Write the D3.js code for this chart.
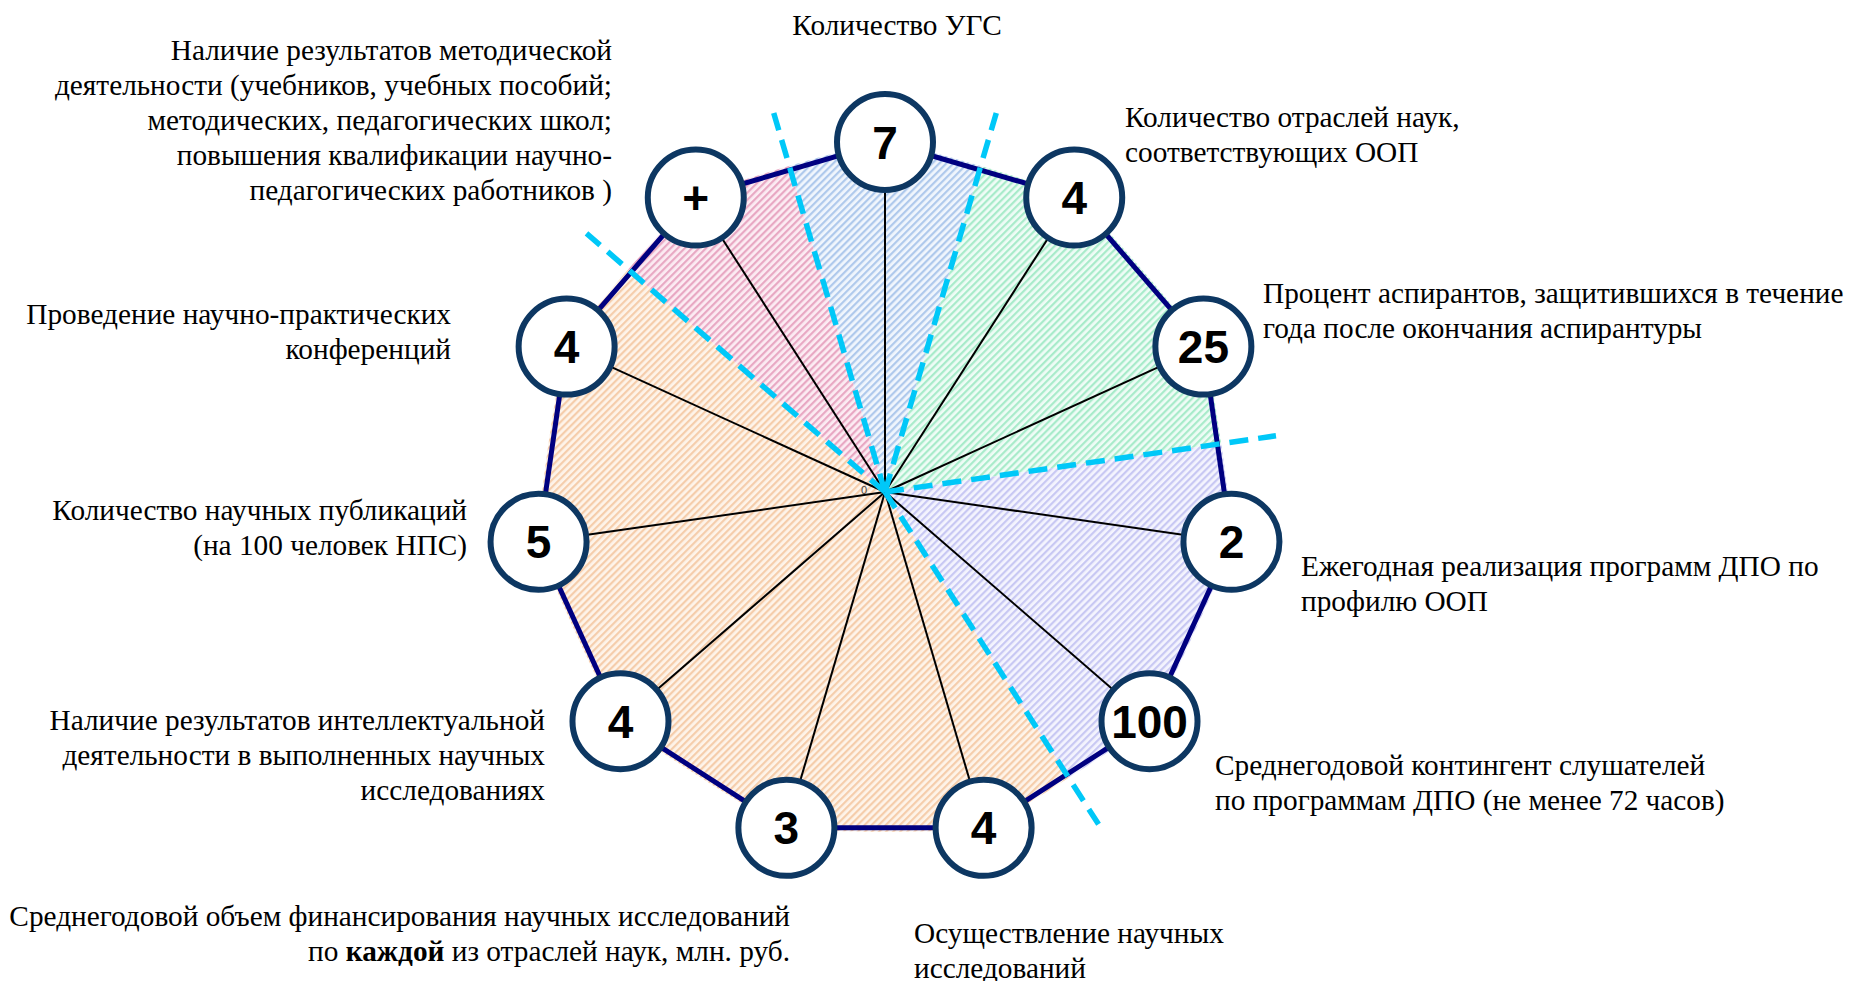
<!DOCTYPE html>
<html>
<head>
<meta charset="utf-8">
<script src="https://cdn.jsdelivr.net/npm/d3@7"></script>
<style>
body { margin: 0; background: #fff; }
</style>
</head>
<body>
<div id="chart"></div>
<script>
// criteria around the wheel, clockwise from the top
var axisLabels = [
    ["Количество УГС"],
    ["Количество отраслей наук,", "соответствующих ООП"],
    ["Процент аспирантов, защитившихся в течение", "года после окончания аспирантуры"],
    ["Ежегодная реализация программ ДПО по", "профилю ООП"],
    ["Среднегодовой  контингент слушателей", "по программам ДПО (не менее 72 часов)"],
    ["Осуществление научных", "исследований"],
    ["Среднегодовой объем финансирования научных исследований", "по **каждой** из отраслей наук, млн. руб."],
    ["Наличие результатов интеллектуальной", "деятельности в выполненных научных", "исследованиях"],
    ["Количество научных публикаций", "(на 100 человек НПС)"],
    ["Проведение научно-практических", "конференций"],
    ["Наличие результатов методической", "деятельности (учебников, учебных пособий;", "методических, педагогических школ;",
        "повышения квалификации научно-", "педагогических работников )"]
];
var shownValues = ["7", "4", "25", "2", "100", "4", "3", "4", "5", "4", "+"];
var scores = [1, 1, 1, 1, 1, 1, 1, 1, 1, 1, 1];
var sectorOfAxis = [0, 1, 1, 2, 2, 3, 3, 3, 3, 3, 4];
var sectorNames = ["blue", "green", "lavender", "orange", "pink"];
var tickLabels = ["0", "1"];
var pageNumber = "120";

// layout / style
var width = 1854, height = 981;
var cx = 885, cy = 492, R = 350;
var serif = "'Liberation Serif', 'Times New Roman', serif";
var sans = "'Liberation Sans', Arial, sans-serif";
var labelLayout = [
    { x: 897, y: 35, anchor: "middle" },
    { x: 1125, y: 127, anchor: "start" },
    { x: 1263, y: 303, anchor: "start" },
    { x: 1301, y: 576, anchor: "start" },
    { x: 1215, y: 775, anchor: "start" },
    { x: 914, y: 943, anchor: "start" },
    { x: 790, y: 926, anchor: "end" },
    { x: 545, y: 730, anchor: "end" },
    { x: 467, y: 520, anchor: "end" },
    { x: 451, y: 324, anchor: "end" },
    { x: 612, y: 60, anchor: "end" }
];
var sectorStyle = {
    blue: { bg: "#f1f6fd", stripe: "#afc9ec" },
    green: { bg: "#effcf6", stripe: "#a8ebca" },
    lavender: { bg: "#f4f4fe", stripe: "#c8c8f3" },
    orange: { bg: "#fef4ea", stripe: "#f5cdab" },
    pink: { bg: "#fcecf3", stripe: "#e8a8c3" }
};

var n = axisLabels.length;
var angle = d3.scaleLinear().domain([0, n]).range([0, 2 * Math.PI]);
var rScale = d3.scaleLinear().domain([0, 1]).range([0, R]);

var svg = d3.select("#chart").append("svg")
    .attr("width", width).attr("height", height);
var defs = svg.append("defs");

function px(i, v) { return rScale(v) * Math.sin(angle(i)); }
function py(i, v) { return -rScale(v) * Math.cos(angle(i)); }

// hatch patterns
sectorNames.forEach(function (name) {
    var p = defs.append("pattern")
        .attr("id", "hatch-" + name)
        .attr("patternUnits", "userSpaceOnUse")
        .attr("width", 5).attr("height", 5)
        .attr("patternTransform", "rotate(45)");
    p.append("rect").attr("width", 5).attr("height", 5).attr("fill", sectorStyle[name].bg);
    p.append("rect").attr("width", 2.2).attr("height", 5).attr("fill", sectorStyle[name].stripe);
});

// sector wedges: start / end in axis units
var sectors = sectorNames.map(function (name, s) {
    var idx = sectorOfAxis.map(function (d, i) { return d === s ? i : -1; })
        .filter(function (i) { return i >= 0; });
    return { name: name, start: idx[0] - 0.5, end: idx[idx.length - 1] + 0.5 };
});

var wedge = d3.arc().innerRadius(0).outerRadius(R + 80);
sectors.forEach(function (s) {
    defs.append("clipPath").attr("id", "clip-" + s.name)
        .append("path")
        .attr("d", wedge({ startAngle: angle(s.start), endAngle: angle(s.end) }));
});

var pts = scores.map(function (v, i) { return [angle(i), rScale(v)]; });
var smoothArea = d3.lineRadial().curve(d3.curveCardinalClosed.tension(0.7));
var polyLine = d3.lineRadial().curve(d3.curveLinearClosed);

var g = svg.append("g").attr("transform", "translate(" + cx + "," + cy + ")");

// hatched fill, one wedge per group
sectors.forEach(function (s) {
    g.append("path")
        .attr("clip-path", "url(#clip-" + s.name + ")")
        .attr("d", smoothArea(pts))
        .attr("fill", "url(#hatch-" + s.name + ")");
});

// spokes
g.selectAll("line.spoke")
    .data(scores).enter().append("line")
    .attr("class", "spoke")
    .attr("x1", 0).attr("y1", 0)
    .attr("x2", function (d, i) { return px(i, d); })
    .attr("y2", function (d, i) { return py(i, d); })
    .attr("stroke", "#000").attr("stroke-width", 2);

// outline
g.append("path")
    .attr("d", polyLine(pts))
    .attr("fill", "none")
    .attr("stroke", "#000080")
    .attr("stroke-width", 5);

// dashed sector borders
g.selectAll("line.border")
    .data(sectors).enter().append("line")
    .attr("class", "border")
    .attr("x1", 0).attr("y1", 0)
    .attr("x2", function (s) { return 395 * Math.sin(angle(s.end)); })
    .attr("y2", function (s) { return -395 * Math.cos(angle(s.end)); })
    .attr("stroke", "#00c8f8")
    .attr("stroke-width", 5.5)
    .attr("stroke-dasharray", "19,10");

// tick labels
g.append("text").attr("x", -24).attr("y", 2).text(tickLabels[0])
    .attr("font-size", 11).attr("fill", "#444").style("font-family", sans);
g.append("text").attr("x", px(0, 1) - 26).attr("y", py(0, 1) + 4).text(tickLabels[1])
    .attr("font-size", 11).attr("fill", "#444").style("font-family", sans);

// value badges
var badge = g.selectAll("g.badge")
    .data(scores).enter().append("g")
    .attr("class", "badge")
    .attr("transform", function (d, i) { return "translate(" + px(i, d) + "," + py(i, d) + ")"; });
badge.append("circle")
    .attr("r", 48)
    .attr("fill", "#fff")
    .attr("stroke", "#0d3762")
    .attr("stroke-width", 6);
badge.append("text")
    .attr("text-anchor", "middle")
    .attr("dy", "0.36em")
    .style("font-family", sans)
    .style("font-weight", "bold")
    .attr("font-size", 46)
    .text(function (d, i) { return shownValues[i]; });

// axis captions
var lineStep = 35;
axisLabels.forEach(function (lines, i) {
    var lay = labelLayout[i];
    var t = svg.append("text")
        .attr("text-anchor", lay.anchor)
        .style("font-family", serif)
        .attr("font-size", 29.3)
        .attr("fill", "#000");
    lines.forEach(function (line, k) {
        var parts = line.split("**");
        parts.forEach(function (part, j) {
            var ts = t.append("tspan").text(part);
            if (j === 0) ts.attr("x", lay.x).attr("y", lay.y + k * lineStep);
            if (j % 2 === 1) ts.style("font-weight", "bold");
        });
    });
});

svg.append("text").attr("x", 1695).attr("y", 999)
    .style("font-family", serif)
    .attr("font-size", 28).attr("fill", "#555").text(pageNumber);
</script>
</body>
</html>
